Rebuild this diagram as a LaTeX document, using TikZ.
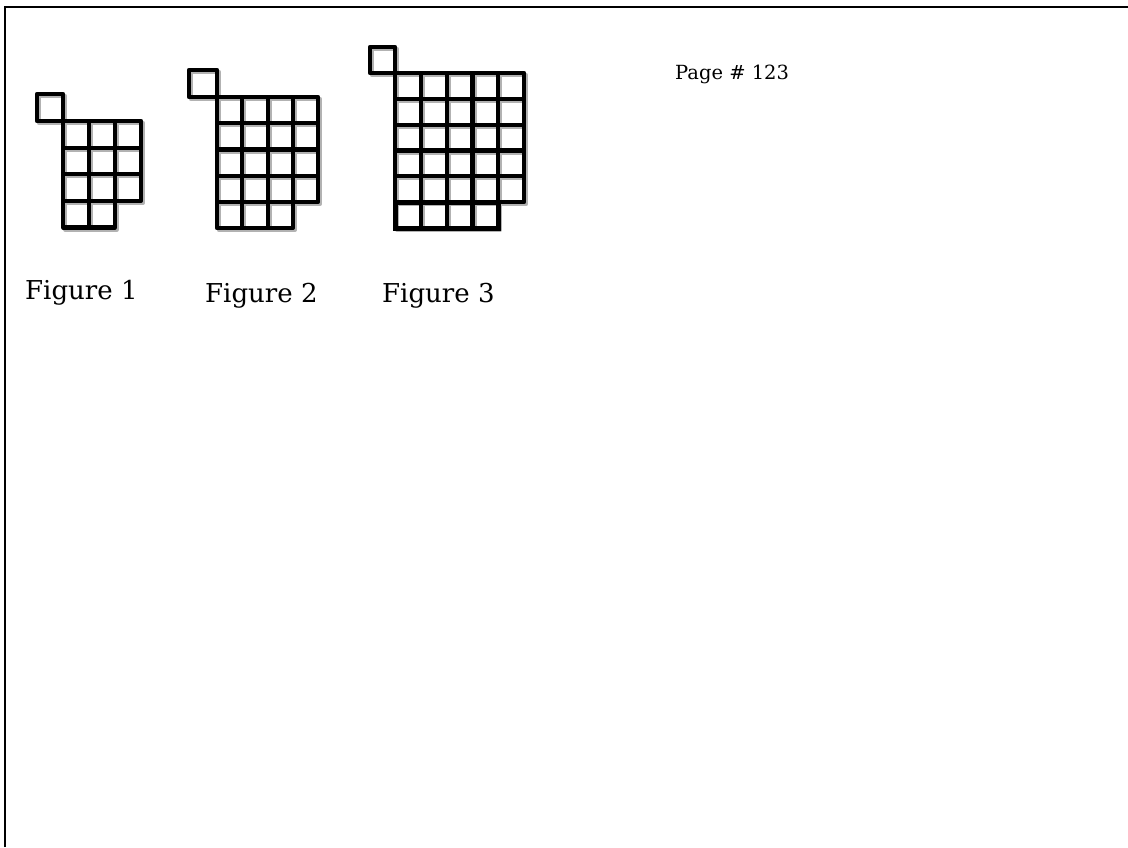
\documentclass[tikz,border=0pt]{standalone}
\usepackage{fontspec}
\setmainfont{DejaVu Serif}
\begin{document}
\begin{tikzpicture}[x=1pt,y=-1pt,
  cellline/.style={line width=4.2pt,line cap=round,line join=round},
  shadowline/.style={line width=4.2pt,draw=black!30,line join=round},
  lbl/.style={anchor=base west,inner sep=0pt,font=\fontsize{26}{30}\selectfont},
  pagelbl/.style={anchor=base west,inner sep=0pt,font=\fontsize{19.5}{23}\selectfont}]
\useasboundingbox (0,0) rectangle (1128,847);
% page frame (top and left edges only)
\draw[line width=1.8pt] (5,847) -- (5,7) -- (1128,7);
% grid macro: \mygrid{x0}{y0}{cellw}{cellh}{cols}{fullrows}{lastcols}
\newcommand\mygrid[7]{%
  \foreach \r in {1,...,#6}{%
    \foreach \c in {1,...,#5}{%
      \draw[shadowline] ({#1+(\c-1)*#3+2},{#2+(\r-1)*#4+2}) rectangle ++(#3,#4);}}%
  \foreach \c in {1,...,#7}{%
    \draw[shadowline] ({#1+(\c-1)*#3+2},{#2+#6*#4+2}) rectangle ++(#3,#4);}%
  \foreach \r in {1,...,#6}{%
    \foreach \c in {1,...,#5}{%
      \draw[cellline] ({#1+(\c-1)*#3},{#2+(\r-1)*#4}) rectangle ++(#3,#4);}}%
  \foreach \c in {1,...,#7}{%
    \draw[cellline] ({#1+(\c-1)*#3},{#2+#6*#4}) rectangle ++(#3,#4);}}
% Figure 1
\draw[shadowline] (39,96) rectangle (65,123);
\draw[cellline] (37,94) rectangle (63,121);
\mygrid{63}{121}{26}{26.6}{3}{3}{2}
% Figure 2
\draw[shadowline] (191,72) rectangle (219,99);
\draw[cellline] (189,70) rectangle (217,97);
\mygrid{217}{97}{25.3}{26.2}{4}{4}{3}
% Figure 3
\draw[shadowline] (372,49) rectangle (397,75);
\draw[cellline] (370,47) rectangle (395,73);
\mygrid{395}{73}{25.8}{25.8}{5}{5}{4}
\draw[line width=5pt] (395,202) rectangle (498,228);
% labels
\node[lbl] (f1) at (25,299) {Figure 1};
\node[lbl] (f2) at (205,302) {Figure 2};
\node[lbl] (f3) at (382,302) {Figure 3};
\node[pagelbl] (pg) at (675,79) {Page \# 123};
\end{tikzpicture}
\end{document}
